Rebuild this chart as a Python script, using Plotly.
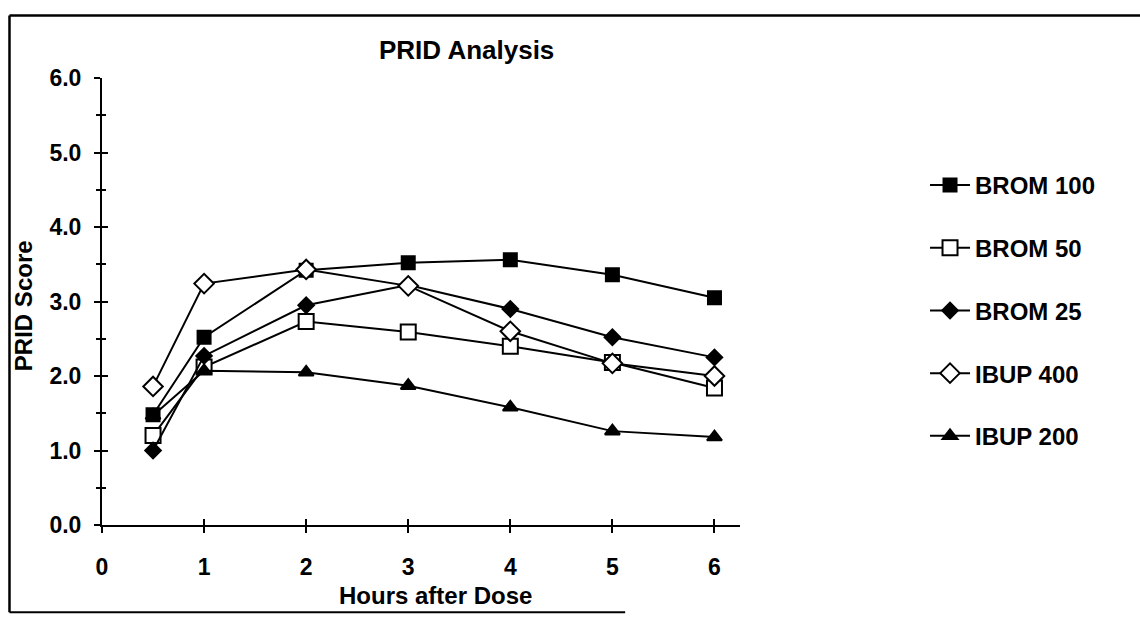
import plotly.graph_objects as go

# Hours after dose and PRID scores per treatment group
hours = [0.5, 1, 2, 3, 4, 5, 6]
brom_100 = [1.48, 2.52, 3.42, 3.52, 3.56, 3.36, 3.05]
brom_50 = [1.20, 2.12, 2.73, 2.59, 2.40, 2.18, 1.84]
brom_25 = [1.00, 2.27, 2.95, 3.22, 2.90, 2.52, 2.25]
ibup_400 = [1.86, 3.24, 3.43, 3.21, 2.60, 2.17, 2.00]
ibup_200 = [1.47, 2.07, 2.05, 1.87, 1.58, 1.26, 1.18]

series_names = ["BROM 100", "BROM 50", "BROM 25", "IBUP 400", "IBUP 200"]
series_values = [brom_100, brom_50, brom_25, ibup_400, ibup_200]
series_symbols = ["square", "square", "diamond", "diamond", "triangle-up"]
series_fills = ["black", "white", "black", "white", "black"]
series_sizes = [13, 15, 12, 15, 13]

x_ticks = [0, 1, 2, 3, 4, 5, 6]
y_ticks = [0, 1, 2, 3, 4, 5, 6]

FONT = "Liberation Sans, Arial, Helvetica, sans-serif"

fig = go.Figure()
for name, vals, sym, fill, size in zip(series_names, series_values, series_symbols,
                                       series_fills, series_sizes):
    fig.add_trace(go.Scatter(
        x=hours, y=vals, name=f"<b>{name}</b>", legendgroup=name,
        mode="lines+markers",
        line=dict(color="black", width=2),
        marker=dict(symbol=sym, size=size, color=fill, line=dict(color="black", width=2)),
    ))

# invisible trace on the overlay axes so the crossing ticks get drawn
fig.add_trace(go.Scatter(x=[0], y=[0], xaxis="x2", yaxis="y2", mode="markers",
                         marker=dict(opacity=0), showlegend=False, hoverinfo="skip"))

tick_style = dict(showgrid=False, zeroline=False, color="black", tickcolor="black", tickwidth=2)

fig.update_layout(
    width=1140, height=618,
    margin=dict(l=102, r=400, t=78, b=93),
    paper_bgcolor="white", plot_bgcolor="white",
    font=dict(family=FONT, color="black"),
    xaxis=dict(range=[0, 6.25], tickvals=x_ticks, ticktext=[f"<b>{v}</b>" for v in x_ticks],
               ticks="outside", ticklen=6, showline=True, linecolor="black", linewidth=2,
               tickfont=dict(size=23), ticklabelstandoff=14, **tick_style),
    yaxis=dict(range=[0, 6], tickvals=y_ticks, ticktext=[f"<b>{v:.1f}</b>" for v in y_ticks],
               ticks="outside", ticklen=6, showline=True, linecolor="black", linewidth=2,
               tickfont=dict(size=23), ticklabelstandoff=8,
               minor=dict(dtick=0.5, ticks="outside", ticklen=4, tickcolor="black", tickwidth=1.5),
               **tick_style),
    xaxis2=dict(overlaying="x", matches="x", range=[0, 6.25], tickvals=x_ticks,
                showticklabels=False, ticks="inside", ticklen=6, showline=False, **tick_style),
    yaxis2=dict(overlaying="y", matches="y", range=[0, 6], tickvals=y_ticks,
                showticklabels=False, ticks="inside", ticklen=6, showline=False,
                minor=dict(dtick=0.5, ticks="inside", ticklen=4, tickcolor="black", tickwidth=1.5),
                **tick_style),
    legend=dict(x=1.29, y=0.81, xanchor="left", yanchor="top",
                font=dict(size=24, family=FONT), tracegroupgap=28.5,
                bgcolor="rgba(0,0,0,0)", itemwidth=40),
    showlegend=True,
    annotations=[
        dict(text="<b>PRID Analysis</b>", xref="paper", yref="paper", x=0.572, y=1.062,
             yanchor="middle", showarrow=False, font=dict(size=26)),
        dict(text="<b>Hours after Dose</b>", xref="paper", yref="paper", x=0.522, y=-0.158,
             yanchor="middle", showarrow=False, font=dict(size=24)),
        dict(text="<b>PRID Score</b>", xref="paper", yref="paper", x=-0.122, y=0.49,
             xanchor="center", yanchor="middle", showarrow=False, textangle=-90,
             font=dict(size=24)),
    ],
    shapes=[
        # outer frame: left, top, bottom edges
        dict(type="line", xref="paper", yref="paper", x0=-0.145, x1=-0.145, y0=-0.195, y1=1.14,
             line=dict(color="black", width=2.5)),
        dict(type="line", xref="paper", yref="paper", x0=-0.145, x1=1.63, y0=1.14, y1=1.14,
             line=dict(color="black", width=2.5)),
        dict(type="line", xref="paper", yref="paper", x0=-0.145, x1=0.82, y0=-0.195, y1=-0.195,
             line=dict(color="black", width=2)),
    ],
)

fig.write_html("out.html")
